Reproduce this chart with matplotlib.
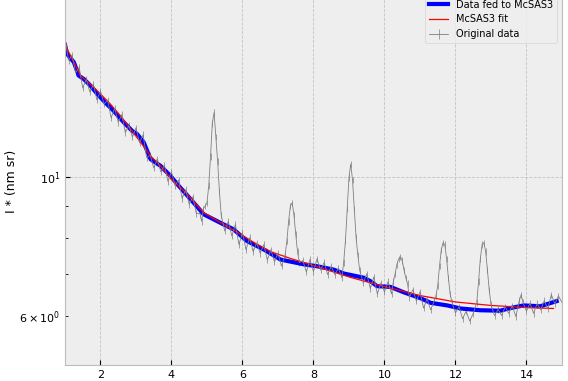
import numpy as np
import matplotlib
matplotlib.use("Agg")
import matplotlib.pyplot as plt

orig_q = [1.0, 1.1, 1.2, 1.3, 1.4, 1.5, 1.6, 1.7, 1.8, 1.9,
          2.0, 2.1, 2.2, 2.3, 2.4, 2.5, 2.6, 2.7, 2.8, 2.9,
          3.0, 3.1, 3.2, 3.3, 3.4, 3.5, 3.6, 3.7, 3.8, 3.9,
          4.0, 4.1, 4.2, 4.3, 4.4, 4.5, 4.6, 4.7, 4.8, 4.85, 4.9, 4.95,
          5.0, 5.05, 5.1, 5.15, 5.2, 5.25, 5.3, 5.35, 5.4,
          5.5, 5.6, 5.7, 5.8, 5.9, 6.0, 6.1, 6.2, 6.3, 6.4,
          6.5, 6.6, 6.7, 6.8, 6.9, 7.0, 7.1,
          7.2, 7.25, 7.3, 7.35, 7.4, 7.45, 7.5, 7.55, 7.6,
          7.7, 7.8, 7.9, 8.0, 8.1, 8.2, 8.3, 8.4, 8.5, 8.6, 8.7, 8.8,
          8.85, 8.9, 8.95, 9.0, 9.05, 9.1, 9.15, 9.2, 9.25, 9.3,
          9.4, 9.5, 9.6, 9.7, 9.8, 9.9, 10.0, 10.1, 10.2,
          10.25, 10.3, 10.35, 10.4, 10.45, 10.5, 10.55, 10.6, 10.65,
          10.7, 10.8, 10.9, 11.0, 11.1, 11.2, 11.3, 11.4,
          11.45, 11.5, 11.55, 11.6, 11.65, 11.7, 11.75, 11.8, 11.85, 11.9,
          12.0, 12.1, 12.2, 12.3, 12.4, 12.5,
          12.6, 12.65, 12.7, 12.75, 12.8, 12.85, 12.9, 12.95, 13.0,
          13.1, 13.2, 13.3, 13.4, 13.5, 13.6, 13.7, 13.8, 13.85, 13.9,
          14.0, 14.1, 14.2, 14.3, 14.4, 14.5, 14.6, 14.7, 14.8, 14.9, 15.0]
orig_i = [16.7, 15.4, 15.7, 14.7, 15.0, 13.9, 14.35, 13.7, 14.1, 13.3,
          13.75, 13.1, 13.3, 12.45, 12.9, 12.25, 12.6, 11.8, 12.1, 11.6,
          12.0, 11.35, 11.7, 10.75, 10.85, 10.35, 10.7, 10.2, 10.45, 9.85,
          10.2, 9.7, 9.9, 9.25, 9.55, 9.05, 9.3, 8.75, 8.75, 8.5, 8.9, 9.0,
          9.1, 9.7, 10.8, 12.2, 12.7, 11.6, 10.6, 9.5, 8.7,
          8.2, 8.5, 8.05, 8.4, 7.8, 8.15, 7.65, 8.0, 7.6, 7.85,
          7.55, 7.8, 7.37, 7.65, 7.32, 7.55, 7.2,
          7.5, 7.9, 8.5, 9.0, 9.1, 8.7, 8.1, 7.6, 7.3,
          7.35, 7.05, 7.38, 7.06, 7.4, 7.1, 7.3, 6.98, 7.2, 6.98, 7.15, 6.9,
          7.3, 7.9, 8.9, 10.0, 10.5, 9.9, 8.9, 8.0, 7.5, 7.1,
          6.77, 7.0, 6.63, 6.92, 6.5, 6.77, 6.55, 6.8, 6.5,
          6.8, 7.0, 7.25, 7.4, 7.45, 7.35, 7.1, 6.9, 6.75,
          6.42, 6.6, 6.33, 6.55, 6.17, 6.38, 6.13, 6.33,
          6.45, 6.7, 7.2, 7.65, 7.85, 7.8, 7.4, 6.9, 6.5, 6.3,
          6.06, 6.2, 5.93, 6.1, 5.88, 6.05,
          6.3, 6.8, 7.4, 7.8, 7.85, 7.6, 7.1, 6.6, 6.25,
          6.0, 6.14, 6.0, 6.2, 6.05, 6.22, 5.98, 6.35, 6.48, 6.3,
          6.1, 6.28, 6.05, 6.27, 6.13, 6.34, 6.15, 6.48, 6.27, 6.45, 6.3]
orig_rel_err = 0.012

# binned data that was fed to McSAS3
fed_q = [1.0, 1.06, 1.25, 1.39, 1.53, 1.72, 1.91, 2.09, 2.37, 2.66, 2.89,
         3.03, 3.22, 3.41, 3.69, 3.97, 4.21, 4.54, 4.91, 5.47, 5.75, 6.13,
         6.6, 7.07, 7.73, 8.1, 8.57, 8.85, 9.42, 9.61, 9.79, 10.17, 10.54,
         11.01, 11.3, 11.77, 12.14, 12.7, 13.26, 13.55, 13.92, 14.39, 14.85]
fed_i = [16.3, 15.76, 15.29, 14.55, 14.37, 14.02, 13.6, 13.26, 12.78, 12.24,
         11.87, 11.73, 11.37, 10.69, 10.43, 10.05, 9.68, 9.22, 8.72, 8.4,
         8.25, 7.9, 7.66, 7.38, 7.25, 7.2, 7.11, 7.01, 6.9, 6.81, 6.69,
         6.67, 6.54, 6.4, 6.29, 6.23, 6.16, 6.12, 6.11, 6.17, 6.23, 6.21,
         6.33]

# McSAS3 model fit
fit_q = [1.0, 1.06, 1.44, 1.81, 2.0, 2.28, 2.56, 2.85, 3.13, 3.41, 3.69,
         4.0, 4.39, 4.9, 5.38, 5.86, 6.37, 6.79, 7.35, 8.0, 9.04, 10.0,
         11.01, 12.0, 12.99, 14.0, 14.76]
fit_i = [16.5, 16.06, 14.55, 13.94, 13.6, 13.1, 12.55, 11.94, 11.38, 10.82,
         10.43, 9.93, 9.46, 8.78, 8.46, 8.16, 7.83, 7.6, 7.41, 7.22, 6.91,
         6.68, 6.46, 6.31, 6.23, 6.18, 6.16]

plt.style.use("bmh")

fig = plt.figure(figsize=(5.68, 3.81), dpi=100)
ax = fig.add_axes([0.1144, 0.042, 0.875, 0.982])

orig_err = np.array(orig_i) * orig_rel_err
h_orig = ax.errorbar(orig_q, orig_i, yerr=orig_err, color="grey",
                     lw=0.6, elinewidth=0.5, label="Original data")
h_fed, = ax.plot(fed_q, fed_i, color="blue", lw=3, label="Data fed to McSAS3")
h_fit, = ax.plot(fit_q, fit_i, color="red", lw=0.9, label="McSAS3 fit")

ax.set_yscale("log")
ax.set_xlim(1, 15)
ax.set_ylim(5.0, 19.9)
ax.grid(True, which="major", ls="--", color="#c4c4c4", lw=0.6)
ax.grid(False, which="minor")
ax.set_ylabel("I * (nm sr)", fontsize=9)
ax.yaxis.set_label_coords(-0.095, 0.49)
ax.tick_params(axis="both", which="both", labelsize=8)
ax.legend(handles=[h_fed, h_fit, h_orig], loc="upper right", fontsize=7)

fig.savefig("out.png", dpi=100)
